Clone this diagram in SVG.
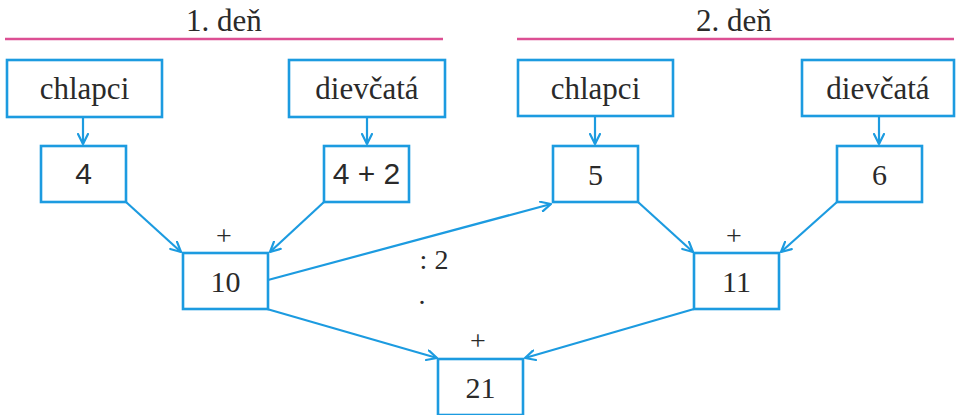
<svg xmlns="http://www.w3.org/2000/svg" width="961" height="415" viewBox="0 0 961 415" font-family="'Liberation Serif', 'Times New Roman', serif">
  <defs>
    <marker id="arr" viewBox="0 0 12 12" refX="11" refY="6" markerWidth="12" markerHeight="12" markerUnits="userSpaceOnUse" orient="auto">
      <path d="M1,1 L11,6 L1,11" fill="none" stroke="#1c9be0" stroke-width="2.2" stroke-linecap="round" stroke-linejoin="round"/>
    </marker>
  </defs>
  <style>
    .box { fill: #ffffff; stroke: #1c9be0; stroke-width: 2.6; }
    .lbl { font-size: 31px; fill: #2a2a2a; text-anchor: middle; }
    .num { font-size: 30px; fill: #2a2a2a; text-anchor: middle; }
    .op { font-size: 28px; fill: #2a2a2a; text-anchor: middle; }
    .head { font-size: 31px; fill: #2a2a2a; text-anchor: middle; }
    .rule { stroke: #dc4f93; stroke-width: 2.5; }
    .conn { stroke: #1c9be0; stroke-width: 2.2; fill: none; marker-end: url(#arr); }
  </style>
  <rect width="961" height="415" fill="#ffffff"/>

  <!-- day headings -->
  <g id="day1">
    <text class="head" x="224" y="31">1. deň</text>
    <line class="rule" x1="5" y1="39" x2="443" y2="39"/>
  </g>
  <g id="day2">
    <text class="head" x="734" y="31">2. deň</text>
    <line class="rule" x1="517" y1="39" x2="954" y2="39"/>
  </g>

  <!-- connectors -->
  <g id="connectors">
    <line class="conn" x1="83" y1="117" x2="83" y2="144"/>
    <line class="conn" x1="367" y1="117" x2="367" y2="144"/>
    <line class="conn" x1="595" y1="116" x2="595" y2="144"/>
    <line class="conn" x1="879" y1="116" x2="879" y2="144"/>
    <line class="conn" x1="126" y1="202" x2="181" y2="252"/>
    <line class="conn" x1="324" y1="202" x2="270" y2="252"/>
    <line class="conn" x1="638" y1="202" x2="693" y2="252"/>
    <line class="conn" x1="837" y1="202" x2="781" y2="252"/>
    <line class="conn" x1="268" y1="280" x2="551" y2="204"/>
    <line class="conn" x1="267" y1="309" x2="437" y2="358"/>
    <line class="conn" x1="694" y1="309" x2="525" y2="358"/>
  </g>

  <!-- day 1 nodes -->
  <g id="boys1">
    <rect class="box" x="7" y="60" width="155" height="57"/>
    <text class="lbl" x="84.5" y="99">chlapci</text>
  </g>
  <g id="girls1">
    <rect class="box" x="289" y="60" width="156" height="57"/>
    <text class="lbl" x="367" y="99">dievčatá</text>
  </g>
  <g id="n4">
    <rect class="box" x="41" y="146" width="85" height="56"/>
    <text class="num" x="83.5" y="184" font-family="'Liberation Sans', Arial, sans-serif" font-size="28">4</text>
  </g>
  <g id="n4plus2">
    <rect class="box" x="324" y="146" width="85" height="56"/>
    <text class="num" x="366.5" y="184" font-family="'Liberation Sans', Arial, sans-serif" font-size="28">4 + 2</text>
  </g>
  <g id="n10">
    <text class="op" x="224" y="245">+</text>
    <rect class="box" x="183" y="253" width="85" height="56"/>
    <text class="num" x="225.5" y="292">10</text>
  </g>

  <!-- day 2 nodes -->
  <g id="boys2">
    <rect class="box" x="518" y="60" width="155" height="56"/>
    <text class="lbl" x="595.5" y="99">chlapci</text>
  </g>
  <g id="girls2">
    <rect class="box" x="802" y="60" width="152" height="56"/>
    <text class="lbl" x="878" y="99">dievčatá</text>
  </g>
  <g id="n5">
    <rect class="box" x="553" y="146" width="85" height="56"/>
    <text class="num" x="595.5" y="185">5</text>
  </g>
  <g id="n6">
    <rect class="box" x="837" y="146" width="85" height="56"/>
    <text class="num" x="879.5" y="185">6</text>
  </g>
  <g id="n11">
    <text class="op" x="734" y="245">+</text>
    <rect class="box" x="694" y="253" width="85" height="56"/>
    <text class="num" x="736.5" y="292">11</text>
  </g>

  <!-- total -->
  <g id="n21">
    <text class="op" x="478" y="350">+</text>
    <rect class="box" x="438" y="359" width="85" height="56"/>
    <text class="num" x="480.5" y="398">21</text>
  </g>

  <!-- operation label on the 10 → 5 connector -->
  <g id="divide-label">
    <text class="op" x="434" y="269">: 2</text>
    <text class="op" x="422" y="304">.</text>
  </g>
</svg>
